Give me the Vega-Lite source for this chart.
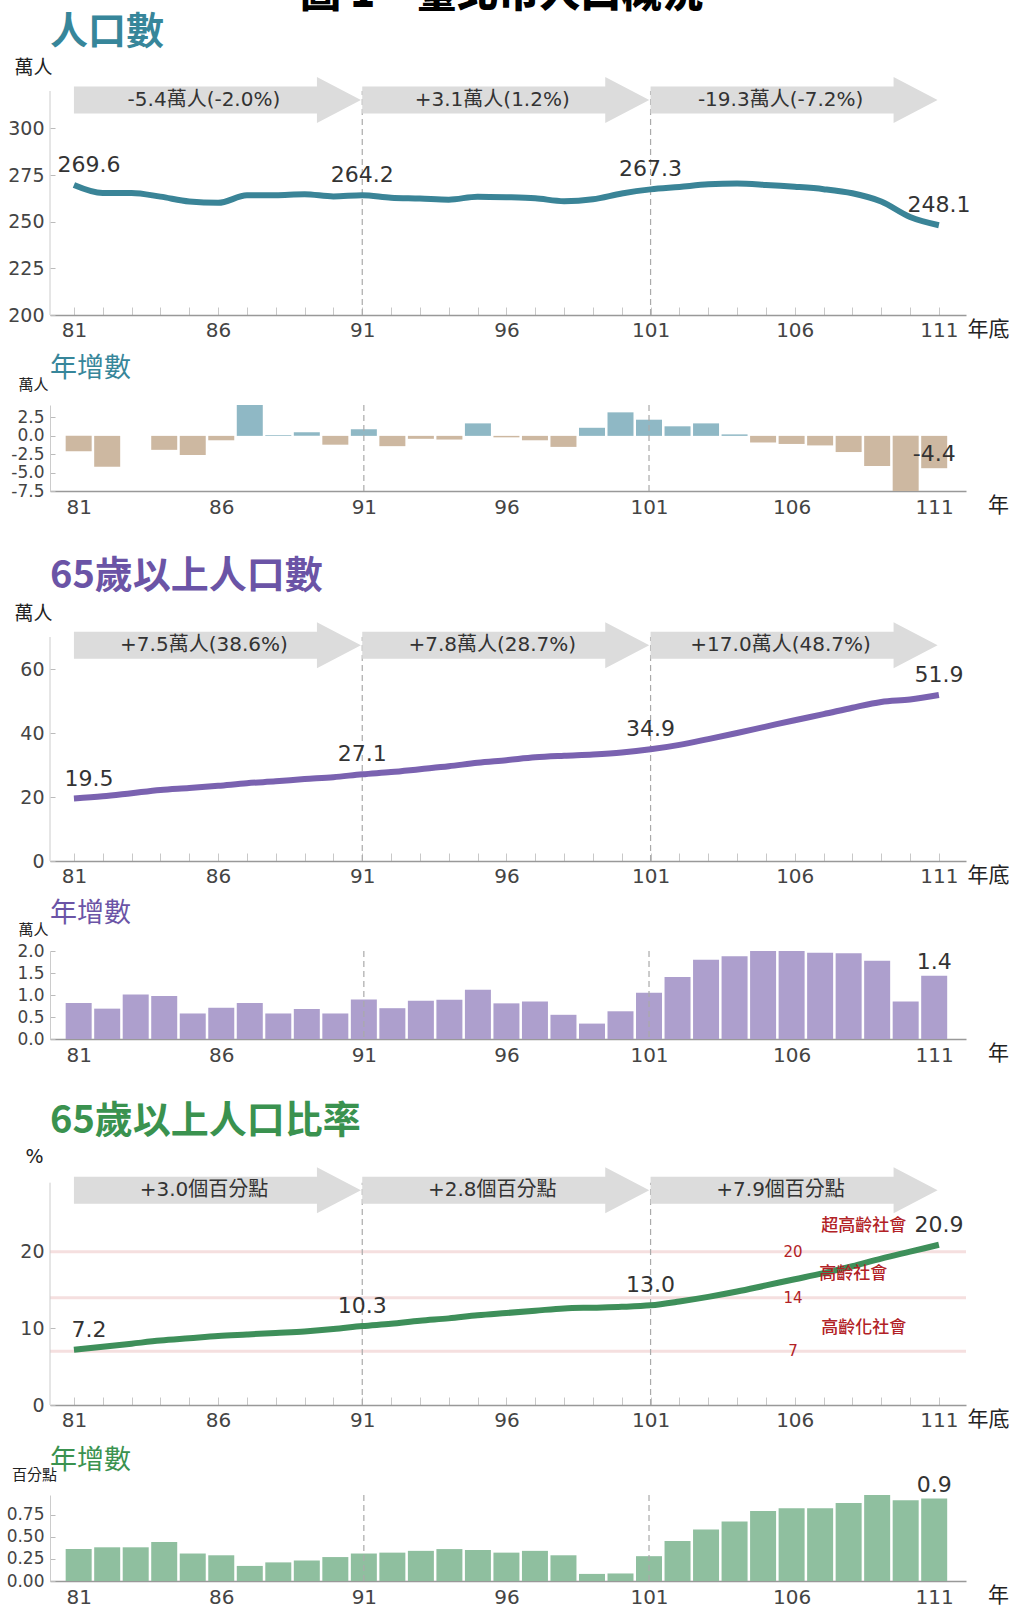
{
"$schema": "https://vega.github.io/schema/vega-lite/v6.json",
"padding": {"top": -26, "left": 6, "right": 0, "bottom": 0},
"background": "white",
"title": {"text": "圖 1　臺北市人口概況", "anchor": "middle", "fontSize": 41, "font": "Noto Sans CJK TC", "fontWeight": 900, "color": "#000000", "baseline": "alphabetic", "offset": -34, "dx": -6},
"spacing": 90,
"bounds": "flush",
"datasets": {
"pop": [{"year":81,"value":269.6},{"year":82,"value":265.3},{"year":83,"value":265.4},{"year":84,"value":263.4},{"year":85,"value":260.8},{"year":86,"value":260.1},{"year":87,"value":264.1},{"year":88,"value":264.2},{"year":89,"value":264.7},{"year":90,"value":263.5},{"year":91,"value":264.2},{"year":92,"value":262.8},{"year":93,"value":262.4},{"year":94,"value":261.8},{"year":95,"value":263.4},{"year":96,"value":263.1},{"year":97,"value":262.5},{"year":98,"value":261.0},{"year":99,"value":262.0},{"year":100,"value":265.1},{"year":101,"value":267.3},{"year":102,"value":268.6},{"year":103,"value":270.0},{"year":104,"value":270.4},{"year":105,"value":269.7},{"year":106,"value":268.7},{"year":107,"value":267.4},{"year":108,"value":265.2},{"year":109,"value":260.8},{"year":110,"value":252.5},{"year":111,"value":248.1}],
"popChg": [{"year":81,"value":-2.1},{"year":82,"value":-4.2},{"year":83,"value":0.0},{"year":84,"value":-1.9},{"year":85,"value":-2.6},{"year":86,"value":-0.6},{"year":87,"value":4.2},{"year":88,"value":0.1},{"year":89,"value":0.5},{"year":90,"value":-1.2},{"year":91,"value":0.9},{"year":92,"value":-1.4},{"year":93,"value":-0.4},{"year":94,"value":-0.5},{"year":95,"value":1.7},{"year":96,"value":-0.2},{"year":97,"value":-0.6},{"year":98,"value":-1.5},{"year":99,"value":1.1},{"year":100,"value":3.2},{"year":101,"value":2.2},{"year":102,"value":1.3},{"year":103,"value":1.7},{"year":104,"value":0.2},{"year":105,"value":-0.9},{"year":106,"value":-1.1},{"year":107,"value":-1.3},{"year":108,"value":-2.2},{"year":109,"value":-4.1},{"year":110,"value":-7.5},{"year":111,"value":-4.4}],
"old": [{"year":81,"value":19.5},{"year":82,"value":20.2},{"year":83,"value":21.2},{"year":84,"value":22.2},{"year":85,"value":22.8},{"year":86,"value":23.5},{"year":87,"value":24.3},{"year":88,"value":24.9},{"year":89,"value":25.6},{"year":90,"value":26.2},{"year":91,"value":27.1},{"year":92,"value":27.8},{"year":93,"value":28.7},{"year":94,"value":29.6},{"year":95,"value":30.7},{"year":96,"value":31.5},{"year":97,"value":32.4},{"year":98,"value":32.9},{"year":99,"value":33.3},{"year":100,"value":33.9},{"year":101,"value":34.9},{"year":102,"value":36.3},{"year":103,"value":38.1},{"year":104,"value":40.0},{"year":105,"value":42.0},{"year":106,"value":44.0},{"year":107,"value":45.9},{"year":108,"value":47.9},{"year":109,"value":49.7},{"year":110,"value":50.5},{"year":111,"value":51.9}],
"oldChg": [{"year":81,"value":0.82},{"year":82,"value":0.69},{"year":83,"value":1.01},{"year":84,"value":0.98},{"year":85,"value":0.58},{"year":86,"value":0.71},{"year":87,"value":0.82},{"year":88,"value":0.58},{"year":89,"value":0.68},{"year":90,"value":0.58},{"year":91,"value":0.9},{"year":92,"value":0.7},{"year":93,"value":0.87},{"year":94,"value":0.89},{"year":95,"value":1.12},{"year":96,"value":0.81},{"year":97,"value":0.85},{"year":98,"value":0.55},{"year":99,"value":0.35},{"year":100,"value":0.63},{"year":101,"value":1.05},{"year":102,"value":1.41},{"year":103,"value":1.8},{"year":104,"value":1.88},{"year":105,"value":2.0},{"year":106,"value":2.0},{"year":107,"value":1.96},{"year":108,"value":1.95},{"year":109,"value":1.78},{"year":110,"value":0.85},{"year":111,"value":1.44}],
"ratio": [{"year":81,"value":7.2},{"year":82,"value":7.6},{"year":83,"value":8.0},{"year":84,"value":8.4},{"year":85,"value":8.7},{"year":86,"value":9.0},{"year":87,"value":9.2},{"year":88,"value":9.4},{"year":89,"value":9.6},{"year":90,"value":9.9},{"year":91,"value":10.3},{"year":92,"value":10.6},{"year":93,"value":11.0},{"year":94,"value":11.3},{"year":95,"value":11.7},{"year":96,"value":12.0},{"year":97,"value":12.3},{"year":98,"value":12.6},{"year":99,"value":12.7},{"year":100,"value":12.8},{"year":101,"value":13.0},{"year":102,"value":13.5},{"year":103,"value":14.1},{"year":104,"value":14.8},{"year":105,"value":15.6},{"year":106,"value":16.4},{"year":107,"value":17.2},{"year":108,"value":18.1},{"year":109,"value":19.1},{"year":110,"value":20.0},{"year":111,"value":20.9}],
"ratioChg": [{"year":81,"value":0.36},{"year":82,"value":0.38},{"year":83,"value":0.38},{"year":84,"value":0.44},{"year":85,"value":0.31},{"year":86,"value":0.29},{"year":87,"value":0.17},{"year":88,"value":0.21},{"year":89,"value":0.23},{"year":90,"value":0.27},{"year":91,"value":0.31},{"year":92,"value":0.32},{"year":93,"value":0.34},{"year":94,"value":0.36},{"year":95,"value":0.35},{"year":96,"value":0.32},{"year":97,"value":0.34},{"year":98,"value":0.29},{"year":99,"value":0.08},{"year":100,"value":0.085},{"year":101,"value":0.28},{"year":102,"value":0.45},{"year":103,"value":0.58},{"year":104,"value":0.67},{"year":105,"value":0.79},{"year":106,"value":0.82},{"year":107,"value":0.82},{"year":108,"value":0.88},{"year":109,"value":0.97},{"year":110,"value":0.91},{"year":111,"value":0.93}],
"splits": [{"year":91},{"year":101}],
"arrPop": [{"year":81,"text":"-5.4萬人(-2.0%)"},{"year":91,"text":"+3.1萬人(1.2%)"},{"year":101,"text":"-19.3萬人(-7.2%)"}],
"arrOld": [{"year":81,"text":"+7.5萬人(38.6%)"},{"year":91,"text":"+7.8萬人(28.7%)"},{"year":101,"text":"+17.0萬人(48.7%)"}],
"arrRatio": [{"year":81,"text":"+3.0個百分點"},{"year":91,"text":"+2.8個百分點"},{"year":101,"text":"+7.9個百分點"}],
"thresholds": [{"v":20},{"v":14},{"v":7}]
},
"vconcat": [
{
"width": 916, "height": 280,
"title": {"text": "人口數", "color": "#37869a", "fontSize": 38, "fontWeight": "bold", "font": "Noto Sans CJK TC", "anchor": "start", "frame": "group", "baseline": "middle", "offset": -36},
"resolve": {"axis": {"x": "independent", "y": "independent"}},
"layer": [
 {"data": {"values": [{}]}, "mark": {"type": "rule", "color": "#cccccc"}, "encoding": {"x": {"datum": 80.17, "type": "quantitative", "axis": null}, "y": {"datum": 200, "type": "quantitative", "scale": {"domain": [200, 350], "nice": false, "zero": false}, "axis": null}, "y2": {"datum": 320}}},
 {"data": {"name": "splits"}, "mark": {"type": "rule", "color": "#aaaaaa", "strokeDash": [6, 4], "strokeWidth": 1.2}, "encoding": {"x": {"field": "year", "type": "quantitative", "axis": null}, "y": {"datum": 200, "type": "quantitative", "axis": null}, "y2": {"datum": 320}}},
 {"data": {"name": "arrPop"}, "mark": {"type": "point", "shape": "M0,-13.5L243,-13.5L243,-23L287,0L243,23L243,13.5L0,13.5Z", "size": 4, "filled": true, "opacity": 1, "color": "#dcdcdc", "strokeWidth": 0}, "encoding": {"x": {"field": "year", "type": "quantitative", "axis": null}, "y": {"datum": 315.2, "type": "quantitative", "axis": null}}},
 {"data": {"name": "arrPop"}, "mark": {"type": "text", "dx": 130, "fontSize": 20, "baseline": "middle", "font": "DejaVu Sans, Noto Sans CJK TC", "color": "#333333"}, "encoding": {"x": {"field": "year", "type": "quantitative", "axis": null}, "y": {"datum": 315.2, "type": "quantitative", "axis": null}, "text": {"field": "text"}}},
 {"data": {"name": "pop"}, "mark": {"type": "line", "color": "#3a8497", "strokeWidth": 6, "interpolate": "monotone"}, "encoding": {
   "x": {"field": "year", "type": "quantitative", "scale": {"domain": [80.17, 111.94], "nice": false, "zero": false},
     "axis": {"values": [81,82,83,84,85,86,87,88,89,90,91,92,93,94,95,96,97,98,99,100,101,102,103,104,105,106,107,108,109,110,111], "labelExpr": "(datum.value - 81) % 5 == 0 ? datum.label : ''", "labelOverlap": false, "tickSize": -8, "tickColor": "#c8c8c8", "domainColor": "#999999", "domainWidth": 1.5, "labelFontSize": 20, "labelBaseline": "middle", "labelPadding": 23, "title": "年底", "titleX": 938, "titleY": 14, "titleAlign": "center", "titleBaseline": "middle", "titleFontSize": 21}},
   "y": {"field": "value", "type": "quantitative", "scale": {"domain": [200, 350], "nice": false, "zero": false},
     "axis": {"values": [200, 225, 250, 275, 300], "domain": false, "tickSize": -5, "tickColor": "#bbbbbb", "labelPadding": 11, "labelFontSize": 19, "labelOverlap": false, "title": "萬人", "titleAngle": 0, "titleX": -17, "titleY": 32, "titleAlign": "center", "titleBaseline": "middle", "titleFontSize": 19}}}},
 {"data": {"name": "pop"}, "transform": [{"filter": "datum.year == 81"}], "mark": {"type": "text", "dx": 15, "dy": -20, "fontSize": 22, "baseline": "middle", "font": "DejaVu Sans", "color": "#333333"}, "encoding": {"x": {"field": "year", "type": "quantitative", "axis": null}, "y": {"field": "value", "type": "quantitative", "axis": null}, "text": {"field": "value", "format": ".1f"}}},
 {"data": {"name": "pop"}, "transform": [{"filter": "datum.year == 91 || datum.year == 101 || datum.year == 111"}], "mark": {"type": "text", "dy": -20, "fontSize": 22, "baseline": "middle", "font": "DejaVu Sans", "color": "#333333"}, "encoding": {"x": {"field": "year", "type": "quantitative", "axis": null}, "y": {"field": "value", "type": "quantitative", "axis": null}, "text": {"field": "value", "format": ".1f"}}}
]
},
{
"width": 916, "height": 86,
"title": {"text": "年增數", "color": "#37869a", "fontSize": 27, "fontWeight": "normal", "font": "Noto Sans CJK TC", "anchor": "start", "frame": "group", "baseline": "middle", "offset": -19},
"resolve": {"axis": {"x": "independent", "y": "independent"}},
"layer": [
 {"data": {"name": "popChg"}, "mark": {"type": "bar", "width": 26, "orient": "vertical"}, "encoding": {
   "x": {"field": "year", "type": "quantitative", "scale": {"domain": [80.17, 111.94], "nice": false, "zero": false},
     "axis": {"values": [81, 86, 91, 96, 101, 106, 111], "ticks": false, "labelOverlap": false, "domainColor": "#999999", "domainWidth": 1.5, "labelFontSize": 20, "labelBaseline": "middle", "labelPadding": 16, "title": "年", "titleX": 948, "titleY": 14, "titleAlign": "center", "titleBaseline": "middle", "titleFontSize": 21}},
   "y": {"field": "value", "type": "quantitative", "scale": {"domain": [-7.5, 4.2], "nice": false},
     "axis": {"values": [-7.5, -5, -2.5, 0, 2.5], "format": ".1f", "domainColor": "#cccccc", "tickSize": -5, "tickColor": "#bbbbbb", "labelPadding": 11, "labelFontSize": 17, "labelOverlap": false, "title": "萬人", "titleAngle": 0, "titleX": -17, "titleY": -21, "titleAlign": "center", "titleBaseline": "middle", "titleFontSize": 15}},
   "color": {"condition": {"test": "datum.value >= 0", "value": "#8fb8c5"}, "value": "#cdb8a1"}}},
 {"data": {"name": "splits"}, "mark": {"type": "rule", "color": "#aaaaaa", "strokeDash": [6, 4], "strokeWidth": 1.2}, "encoding": {"x": {"field": "year", "type": "quantitative", "axis": null}}},
 {"data": {"name": "popChg"}, "transform": [{"filter": "datum.year == 111"}], "mark": {"type": "text", "dy": -14, "fontSize": 22, "baseline": "middle", "font": "DejaVu Sans", "color": "#333333"}, "encoding": {"x": {"field": "year", "type": "quantitative", "axis": null}, "y": {"field": "value", "type": "quantitative", "axis": null}, "text": {"field": "value", "format": ".1f"}}}
]
},
{
"width": 916, "height": 280,
"title": {"text": "65歲以上人口數", "color": "#6b54a6", "fontSize": 38, "fontWeight": "bold", "font": "Noto Sans CJK TC", "anchor": "start", "frame": "group", "baseline": "middle", "offset": -34},
"resolve": {"axis": {"x": "independent", "y": "independent"}},
"layer": [
 {"data": {"values": [{}]}, "mark": {"type": "rule", "color": "#cccccc"}, "encoding": {"x": {"datum": 80.17, "type": "quantitative", "axis": null}, "y": {"datum": 0, "type": "quantitative", "scale": {"domain": [0, 87.5], "nice": false, "zero": false}, "axis": null}, "y2": {"datum": 70}}},
 {"data": {"name": "splits"}, "mark": {"type": "rule", "color": "#aaaaaa", "strokeDash": [6, 4], "strokeWidth": 1.2}, "encoding": {"x": {"field": "year", "type": "quantitative", "axis": null}, "y": {"datum": 0, "type": "quantitative", "axis": null}, "y2": {"datum": 70}}},
 {"data": {"name": "arrOld"}, "mark": {"type": "point", "shape": "M0,-13.5L243,-13.5L243,-23L287,0L243,23L243,13.5L0,13.5Z", "size": 4, "filled": true, "opacity": 1, "color": "#dcdcdc", "strokeWidth": 0}, "encoding": {"x": {"field": "year", "type": "quantitative", "axis": null}, "y": {"datum": 67.4, "type": "quantitative", "axis": null}}},
 {"data": {"name": "arrOld"}, "mark": {"type": "text", "dx": 130, "fontSize": 20, "baseline": "middle", "font": "DejaVu Sans, Noto Sans CJK TC", "color": "#333333"}, "encoding": {"x": {"field": "year", "type": "quantitative", "axis": null}, "y": {"datum": 67.4, "type": "quantitative", "axis": null}, "text": {"field": "text"}}},
 {"data": {"name": "old"}, "mark": {"type": "line", "color": "#7a62b0", "strokeWidth": 6, "interpolate": "monotone"}, "encoding": {
   "x": {"field": "year", "type": "quantitative", "scale": {"domain": [80.17, 111.94], "nice": false, "zero": false},
     "axis": {"values": [81,82,83,84,85,86,87,88,89,90,91,92,93,94,95,96,97,98,99,100,101,102,103,104,105,106,107,108,109,110,111], "labelExpr": "(datum.value - 81) % 5 == 0 ? datum.label : ''", "labelOverlap": false, "tickSize": -8, "tickColor": "#c8c8c8", "domainColor": "#999999", "domainWidth": 1.5, "labelFontSize": 20, "labelBaseline": "middle", "labelPadding": 23, "title": "年底", "titleX": 938, "titleY": 14, "titleAlign": "center", "titleBaseline": "middle", "titleFontSize": 21}},
   "y": {"field": "value", "type": "quantitative", "scale": {"domain": [0, 87.5], "nice": false, "zero": false},
     "axis": {"values": [0, 20, 40, 60], "domain": false, "tickSize": -5, "tickColor": "#bbbbbb", "labelPadding": 11, "labelFontSize": 19, "labelOverlap": false, "title": "萬人", "titleAngle": 0, "titleX": -17, "titleY": 32, "titleAlign": "center", "titleBaseline": "middle", "titleFontSize": 19}}}},
 {"data": {"name": "old"}, "transform": [{"filter": "datum.year == 81"}], "mark": {"type": "text", "dx": 15, "dy": -20, "fontSize": 22, "baseline": "middle", "font": "DejaVu Sans", "color": "#333333"}, "encoding": {"x": {"field": "year", "type": "quantitative", "axis": null}, "y": {"field": "value", "type": "quantitative", "axis": null}, "text": {"field": "value", "format": ".1f"}}},
 {"data": {"name": "old"}, "transform": [{"filter": "datum.year == 91 || datum.year == 101 || datum.year == 111"}], "mark": {"type": "text", "dy": -20, "fontSize": 22, "baseline": "middle", "font": "DejaVu Sans", "color": "#333333"}, "encoding": {"x": {"field": "year", "type": "quantitative", "axis": null}, "y": {"field": "value", "type": "quantitative", "axis": null}, "text": {"field": "value", "format": ".1f"}}}
]
},
{
"width": 916, "height": 88,
"title": {"text": "年增數", "color": "#6b54a6", "fontSize": 27, "fontWeight": "normal", "font": "Noto Sans CJK TC", "anchor": "start", "frame": "group", "baseline": "middle", "offset": -19},
"resolve": {"axis": {"x": "independent", "y": "independent"}},
"layer": [
 {"data": {"name": "oldChg"}, "mark": {"type": "bar", "width": 26, "orient": "vertical", "color": "#ad9fcd"}, "encoding": {
   "x": {"field": "year", "type": "quantitative", "scale": {"domain": [80.17, 111.94], "nice": false, "zero": false},
     "axis": {"values": [81, 86, 91, 96, 101, 106, 111], "ticks": false, "labelOverlap": false, "domainColor": "#999999", "domainWidth": 1.5, "labelFontSize": 20, "labelBaseline": "middle", "labelPadding": 16, "title": "年", "titleX": 948, "titleY": 14, "titleAlign": "center", "titleBaseline": "middle", "titleFontSize": 21}},
   "y": {"field": "value", "type": "quantitative", "scale": {"domain": [0, 2.0], "nice": false},
     "axis": {"values": [0, 0.5, 1, 1.5, 2], "format": ".1f", "domainColor": "#cccccc", "tickSize": -5, "tickColor": "#bbbbbb", "labelPadding": 11, "labelFontSize": 17, "labelOverlap": false, "title": "萬人", "titleAngle": 0, "titleX": -17, "titleY": -22, "titleAlign": "center", "titleBaseline": "middle", "titleFontSize": 15}}}},
 {"data": {"name": "splits"}, "mark": {"type": "rule", "color": "#aaaaaa", "strokeDash": [6, 4], "strokeWidth": 1.2}, "encoding": {"x": {"field": "year", "type": "quantitative", "axis": null}}},
 {"data": {"name": "oldChg"}, "transform": [{"filter": "datum.year == 111"}], "mark": {"type": "text", "dy": -14, "fontSize": 22, "baseline": "middle", "font": "DejaVu Sans", "color": "#333333"}, "encoding": {"x": {"field": "year", "type": "quantitative", "axis": null}, "y": {"field": "value", "type": "quantitative", "axis": null}, "text": {"field": "value", "format": ".1f"}}}
]
},
{
"width": 916, "height": 276,
"title": {"text": "65歲以上人口比率", "color": "#3a924f", "fontSize": 38, "fontWeight": "bold", "font": "Noto Sans CJK TC", "anchor": "start", "frame": "group", "baseline": "middle", "offset": -31},
"resolve": {"axis": {"x": "independent", "y": "independent"}},
"layer": [
 {"data": {"name": "thresholds"}, "mark": {"type": "rule", "color": "#f5dfdf", "strokeWidth": 3}, "encoding": {"x": {"datum": 80.17, "type": "quantitative", "axis": null}, "x2": {"datum": 111.94}, "y": {"field": "v", "type": "quantitative", "scale": {"domain": [0, 36], "nice": false, "zero": false}, "axis": null}}},
 {"data": {"values": [{}]}, "mark": {"type": "rule", "color": "#cccccc"}, "encoding": {"x": {"datum": 80.17, "type": "quantitative", "axis": null}, "y": {"datum": 0, "type": "quantitative", "axis": null}, "y2": {"datum": 29}}},
 {"data": {"name": "splits"}, "mark": {"type": "rule", "color": "#aaaaaa", "strokeDash": [6, 4], "strokeWidth": 1.2}, "encoding": {"x": {"field": "year", "type": "quantitative", "axis": null}, "y": {"datum": 0, "type": "quantitative", "axis": null}, "y2": {"datum": 29}}},
 {"data": {"name": "arrRatio"}, "mark": {"type": "point", "shape": "M0,-13.5L243,-13.5L243,-23L287,0L243,23L243,13.5L0,13.5Z", "size": 4, "filled": true, "opacity": 1, "color": "#dcdcdc", "strokeWidth": 0}, "encoding": {"x": {"field": "year", "type": "quantitative", "axis": null}, "y": {"datum": 28.0, "type": "quantitative", "axis": null}}},
 {"data": {"name": "arrRatio"}, "mark": {"type": "text", "dx": 130, "fontSize": 20, "baseline": "middle", "font": "DejaVu Sans, Noto Sans CJK TC", "color": "#333333"}, "encoding": {"x": {"field": "year", "type": "quantitative", "axis": null}, "y": {"datum": 28.0, "type": "quantitative", "axis": null}, "text": {"field": "text"}}},
 {"data": {"name": "thresholds"}, "mark": {"type": "text", "fontSize": 15, "baseline": "middle", "font": "DejaVu Sans", "color": "#b22226"}, "encoding": {"x": {"datum": 105.94, "type": "quantitative", "axis": null}, "y": {"field": "v", "type": "quantitative", "axis": null}, "text": {"field": "v"}}},
 {"data": {"name": "ratio"}, "mark": {"type": "line", "color": "#3e8f5a", "strokeWidth": 6, "interpolate": "monotone"}, "encoding": {
   "x": {"field": "year", "type": "quantitative", "scale": {"domain": [80.17, 111.94], "nice": false, "zero": false},
     "axis": {"values": [81,82,83,84,85,86,87,88,89,90,91,92,93,94,95,96,97,98,99,100,101,102,103,104,105,106,107,108,109,110,111], "labelExpr": "(datum.value - 81) % 5 == 0 ? datum.label : ''", "labelOverlap": false, "tickSize": -8, "tickColor": "#c8c8c8", "domainColor": "#999999", "domainWidth": 1.5, "labelFontSize": 20, "labelBaseline": "middle", "labelPadding": 23, "title": "年底", "titleX": 938, "titleY": 14, "titleAlign": "center", "titleBaseline": "middle", "titleFontSize": 21}},
   "y": {"field": "value", "type": "quantitative", "scale": {"domain": [0, 36], "nice": false, "zero": false},
     "axis": {"values": [0, 10, 20], "domain": false, "tickSize": -5, "tickColor": "#bbbbbb", "labelPadding": 11, "labelFontSize": 19, "labelOverlap": false, "title": "%", "titleFont": "DejaVu Sans", "titleAngle": 0, "titleX": -16, "titleY": 27, "titleAlign": "center", "titleBaseline": "middle", "titleFontSize": 19}}}},
 {"data": {"values": [{}]}, "mark": {"type": "text", "align": "left", "fontSize": 17, "baseline": "middle", "font": "Noto Sans CJK TC", "fontWeight": 500, "color": "#b22226"}, "encoding": {"x": {"datum": 106.92, "type": "quantitative", "axis": null}, "y": {"datum": 23.35, "type": "quantitative", "axis": null}, "text": {"value": "超高齡社會"}}},
 {"data": {"values": [{}]}, "mark": {"type": "text", "align": "left", "fontSize": 17, "baseline": "middle", "font": "Noto Sans CJK TC", "fontWeight": 500, "color": "#b22226"}, "encoding": {"x": {"datum": 106.85, "type": "quantitative", "axis": null}, "y": {"datum": 17.1, "type": "quantitative", "axis": null}, "text": {"value": "高齡社會"}}},
 {"data": {"values": [{}]}, "mark": {"type": "text", "align": "left", "fontSize": 17, "baseline": "middle", "font": "Noto Sans CJK TC", "fontWeight": 500, "color": "#b22226"}, "encoding": {"x": {"datum": 106.92, "type": "quantitative", "axis": null}, "y": {"datum": 10.0, "type": "quantitative", "axis": null}, "text": {"value": "高齡化社會"}}},
 {"data": {"name": "ratio"}, "transform": [{"filter": "datum.year == 81"}], "mark": {"type": "text", "dx": 15, "dy": -20, "fontSize": 22, "baseline": "middle", "font": "DejaVu Sans", "color": "#333333"}, "encoding": {"x": {"field": "year", "type": "quantitative", "axis": null}, "y": {"field": "value", "type": "quantitative", "axis": null}, "text": {"field": "value", "format": ".1f"}}},
 {"data": {"name": "ratio"}, "transform": [{"filter": "datum.year == 91 || datum.year == 101 || datum.year == 111"}], "mark": {"type": "text", "dy": -20, "fontSize": 22, "baseline": "middle", "font": "DejaVu Sans", "color": "#333333"}, "encoding": {"x": {"field": "year", "type": "quantitative", "axis": null}, "y": {"field": "value", "type": "quantitative", "axis": null}, "text": {"field": "value", "format": ".1f"}}}
]
},
{
"width": 916, "height": 86,
"title": {"text": "年增數", "color": "#3a924f", "fontSize": 27, "fontWeight": "normal", "font": "Noto Sans CJK TC", "anchor": "start", "frame": "group", "baseline": "middle", "offset": -21},
"resolve": {"axis": {"x": "independent", "y": "independent"}},
"layer": [
 {"data": {"name": "ratioChg"}, "mark": {"type": "bar", "width": 26, "orient": "vertical", "color": "#8fbf9f"}, "encoding": {
   "x": {"field": "year", "type": "quantitative", "scale": {"domain": [80.17, 111.94], "nice": false, "zero": false},
     "axis": {"values": [81, 86, 91, 96, 101, 106, 111], "ticks": false, "labelOverlap": false, "domainColor": "#999999", "domainWidth": 1.5, "labelFontSize": 20, "labelBaseline": "middle", "labelPadding": 16, "title": "年", "titleX": 948, "titleY": 14, "titleAlign": "center", "titleBaseline": "middle", "titleFontSize": 21}},
   "y": {"field": "value", "type": "quantitative", "scale": {"domain": [0, 0.97], "nice": false},
     "axis": {"values": [0, 0.25, 0.5, 0.75], "format": ".2f", "domainColor": "#cccccc", "tickSize": -5, "tickColor": "#bbbbbb", "labelPadding": 11, "labelFontSize": 17, "labelOverlap": false, "title": "百分點", "titleAngle": 0, "titleX": -16, "titleY": -21, "titleAlign": "center", "titleBaseline": "middle", "titleFontSize": 15}}}},
 {"data": {"name": "splits"}, "mark": {"type": "rule", "color": "#aaaaaa", "strokeDash": [6, 4], "strokeWidth": 1.2}, "encoding": {"x": {"field": "year", "type": "quantitative", "axis": null}}},
 {"data": {"name": "ratioChg"}, "transform": [{"filter": "datum.year == 111"}], "mark": {"type": "text", "dy": -14, "fontSize": 22, "baseline": "middle", "font": "DejaVu Sans", "color": "#333333"}, "encoding": {"x": {"field": "year", "type": "quantitative", "axis": null}, "y": {"field": "value", "type": "quantitative", "axis": null}, "text": {"field": "value", "format": ".1f"}}}
]
}
],
"config": {
"view": {"stroke": null},
"locale": {"number": {"decimal": ".", "thousands": ",", "grouping": [3], "currency": ["$", ""], "minus": "-"}},
"axis": {"grid": false, "labelFont": "DejaVu Sans", "labelColor": "#444444", "titleFont": "Noto Sans CJK TC", "titleFontWeight": "normal", "titleColor": "#222222", "domainColor": "#cccccc", "tickColor": "#bbbbbb", "labelFlush": false, "labelOverlap": false}
}
}
